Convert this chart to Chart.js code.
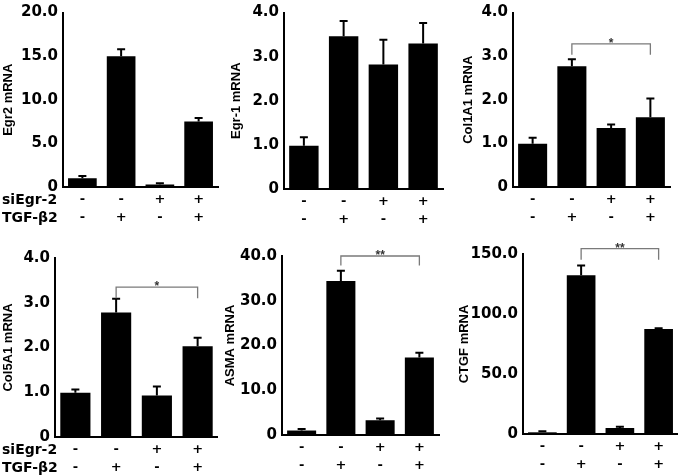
<!DOCTYPE html>
<html>
<head>
<meta charset="utf-8">
<script src="https://cdn.jsdelivr.net/npm/chart.js@4.4.1/dist/chart.umd.min.js"></script>
<style>
  html, body { margin: 0; padding: 0; background: #ffffff; }
  #wrap { position: relative; width: 678px; height: 475px; overflow: hidden; background: #fff; }
  canvas { position: absolute; }
</style>
</head>
<body>
<div id="wrap">
  <canvas id="c1" width="226" height="232" style="left:0px;top:0px"></canvas>
  <canvas id="c2" width="222" height="232" style="left:228px;top:0px"></canvas>
  <canvas id="c3" width="226" height="232" style="left:452px;top:0px"></canvas>
  <canvas id="c4" width="218" height="235" style="left:0px;top:240px"></canvas>
  <canvas id="c5" width="232" height="235" style="left:218px;top:240px"></canvas>
  <canvas id="c6" width="226" height="235" style="left:452px;top:240px"></canvas>
</div>
<script>
// ---------- data ----------
const siEgr2Signs = ['-', '-', '+', '+'];
const tgfB2Signs  = ['-', '+', '-', '+'];
const rowLabels = ['siEgr-2', 'TGF-\u03b22'];

const egr2Mean   = [1.0, 15.0, 0.3, 7.5];
const egr2Err    = [0.25, 0.8, 0.12, 0.4];
const egr2Ticks  = [0, 5, 10, 15, 20];

const egr1Mean   = [0.98, 3.46, 2.82, 3.30];
const egr1Err    = [0.19, 0.35, 0.56, 0.46];
const egr1Ticks  = [0, 1, 2, 3, 4];

const col1a1Mean = [0.99, 2.77, 1.35, 1.60];
const col1a1Err  = [0.14, 0.16, 0.08, 0.43];
const col1a1Ticks = [0, 1, 2, 3, 4];

const col5a1Mean = [0.99, 2.78, 0.93, 2.03];
const col5a1Err  = [0.07, 0.31, 0.20, 0.19];
const col5a1Ticks = [0, 1, 2, 3, 4];

const asmaMean   = [1.0, 34.4, 3.3, 17.3];
const asmaErr    = [0.35, 2.3, 0.4, 1.1];
const asmaTicks  = [0, 10, 20, 30, 40];

const ctgfMean   = [1.4, 132.2, 5.0, 87.5];
const ctgfErr    = [0.8, 8.3, 1.1, 0.6];
const ctgfTicks  = [0, 50, 100, 150];

// significance brackets: [fromIndex, toIndex, level, legEnd, label]
const col1a1Sig = [1, 3, 3.28, 3.03, '*'];
const col5a1Sig = [1, 3, 3.35, 3.10, '*'];
const asmaSig   = [1, 3, 40.0, 37.9, '**'];
const ctgfSig   = [1, 3, 154.4, 145.3, '**'];

// ---------- layout (positions and styles) ----------
const panels = [
  { id: 'c1', title: 'Egr2 mRNA',   mean: egr2Mean,   err: egr2Err,   ticks: egr2Ticks,   sig: null,      rowLabels: true,
    area: { left: 63, top: 7, right: 218, bottom: 187 }, titleX: 8 },
  { id: 'c2', title: 'Egr-1 mRNA',  mean: egr1Mean,   err: egr1Err,   ticks: egr1Ticks,   sig: null,      rowLabels: false,
    area: { left: 56, top: 9, right: 215, bottom: 189 }, titleX: 8 },
  { id: 'c3', title: 'Col1A1 mRNA', mean: col1a1Mean, err: col1a1Err, ticks: col1a1Ticks, sig: col1a1Sig, rowLabels: false,
    area: { left: 61, top: 7, right: 218, bottom: 187 }, titleX: 16 },
  { id: 'c4', title: 'Col5A1 mRNA', mean: col5a1Mean, err: col5a1Err, ticks: col5a1Ticks, sig: col5a1Sig, rowLabels: true,
    area: { left: 55, top: 18, right: 218, bottom: 197 }, titleX: 8 },
  { id: 'c5', title: 'ASMA mRNA',   mean: asmaMean,   err: asmaErr,   ticks: asmaTicks,   sig: asmaSig,   rowLabels: false,
    area: { left: 64, top: 16, right: 221, bottom: 195 }, titleX: 12 },
  { id: 'c6', title: 'CTGF mRNA',   mean: ctgfMean,   err: ctgfErr,   ticks: ctgfTicks,   sig: ctgfSig,   rowLabels: false,
    area: { left: 71, top: 14, right: 226, bottom: 194 }, titleX: 12 }
];

const xLabels = siEgr2Signs.map((s, i) => [s, tgfB2Signs[i]]);

const errorBarPlugin = {
  id: 'errorBars',
  afterDatasetsDraw(chart, args, opts) {
    const ctx = chart.ctx;
    const meta = chart.getDatasetMeta(0);
    const ys = chart.scales.y;
    const errs = opts.err || [];
    const means = chart.data.datasets[0].data;
    ctx.save();
    ctx.strokeStyle = '#000';
    ctx.lineWidth = 2;
    meta.data.forEach((el, i) => {
      const top = ys.getPixelForValue(means[i] + errs[i]);
      ctx.beginPath();
      ctx.moveTo(el.x, el.y);
      ctx.lineTo(el.x, top);
      ctx.moveTo(el.x - 4, top);
      ctx.lineTo(el.x + 4, top);
      ctx.stroke();
    });
    ctx.restore();
  }
};

const bracketPlugin = {
  id: 'sigBracket',
  afterDraw(chart, args, opts) {
    const s = opts.sig;
    if (!s) return;
    const ctx = chart.ctx;
    const xs = chart.scales.x, ys = chart.scales.y;
    const x1 = xs.getPixelForValue(s[0]);
    const x2 = xs.getPixelForValue(s[1]);
    const y = ys.getPixelForValue(s[2]);
    const yl = ys.getPixelForValue(s[3]);
    ctx.save();
    ctx.strokeStyle = '#7a7a7a';
    ctx.lineWidth = 1.3;
    ctx.beginPath();
    ctx.moveTo(x1, yl);
    ctx.lineTo(x1, y);
    ctx.lineTo(x2, y);
    ctx.lineTo(x2, yl);
    ctx.stroke();
    ctx.fillStyle = '#333';
    ctx.font = 'bold 12px "Liberation Sans", Arial, sans-serif';
    ctx.textAlign = 'center';
    ctx.textBaseline = 'alphabetic';
    ctx.fillText(s[4], (x1 + x2) / 2, y + 3);
    ctx.restore();
  }
};

const rowLabelPlugin = {
  id: 'rowLabels',
  afterDraw(chart, args, opts) {
    if (!opts.show) return;
    const ctx = chart.ctx;
    const b = chart.chartArea.bottom;
    ctx.save();
    ctx.fillStyle = '#000';
    ctx.font = 'bold 14px "DejaVu Sans", sans-serif';
    ctx.textAlign = 'left';
    ctx.textBaseline = 'middle';
    ctx.fillText(rowLabels[0], 2, b + 13);
    ctx.fillText(rowLabels[1], 2, b + 31);
    ctx.restore();
  }
};

panels.forEach(p => {
  const canvas = document.getElementById(p.id);
  const W = canvas.width, H = canvas.height;
  const a = p.area;
  const tMax = p.ticks[p.ticks.length - 1];
  const step = p.ticks[1] - p.ticks[0];
  new Chart(canvas, {
    type: 'bar',
    data: {
      labels: xLabels,
      datasets: [{
        data: p.mean,
        backgroundColor: '#000000',
        borderWidth: 0,
        barPercentage: 0.74,
        categoryPercentage: 1.0
      }]
    },
    options: {
      responsive: false,
      animation: false,
      devicePixelRatio: 1,
      layout: { padding: { left: 0, top: a.top, right: W - a.right, bottom: 0 } },
      plugins: {
        legend: { display: false },
        tooltip: { enabled: false },
        errorBars: { err: p.err },
        sigBracket: { sig: p.sig },
        rowLabels: { show: p.rowLabels }
      },
      scales: {
        x: {
          type: 'category',
          offset: true,
          grid: { display: false, drawTicks: false },
          border: { display: true, color: '#000', width: 2 },
          ticks: {
            color: '#000',
            padding: 4,
            maxRotation: 0,
            autoSkip: false,
            font: { family: '"DejaVu Sans", sans-serif', size: 13, weight: 'bold', lineHeight: 1.38 }
          },
          afterFit(scale) { scale.height = H - a.bottom; }
        },
        y: {
          min: 0,
          max: tMax,
          grid: { display: false, drawTicks: false },
          border: { display: true, color: '#000', width: 2 },
          ticks: {
            stepSize: step,
            color: '#000',
            padding: 5,
            font: { family: '"DejaVu Sans", sans-serif', size: 15, weight: 'bold', lineHeight: 1 },
            callback: (v) => v === 0 ? '0' : Number(v).toFixed(1)
          },
          title: {
            display: true,
            text: p.title,
            color: '#000',
            padding: { top: Math.max(0, p.titleX - 7.8), bottom: 0 },
            font: { family: '"Liberation Sans", Arial, sans-serif', size: 13, weight: 'bold', lineHeight: 1.2 }
          },
          afterFit(scale) { scale.width = a.left; }
        }
      }
    },
    plugins: [errorBarPlugin, bracketPlugin, rowLabelPlugin]
  });
});
</script>
</body>
</html>
